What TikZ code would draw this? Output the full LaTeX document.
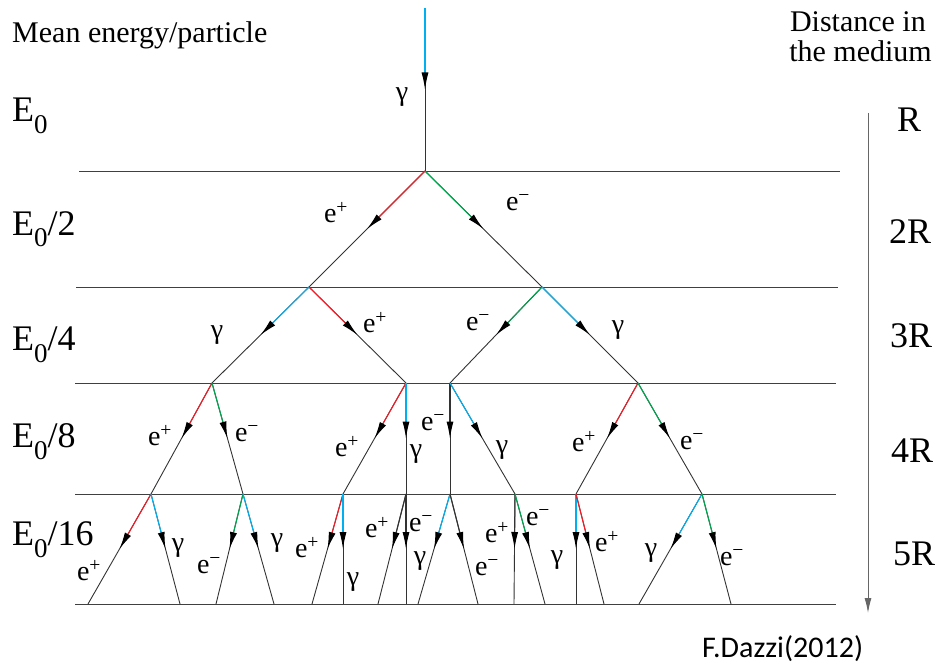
\documentclass[tikz,border=0pt]{standalone}
\usepackage{fontspec}
\setmainfont{Liberation Serif}
\newfontfamily\signfont{Carlito}
\usetikzlibrary{arrows.meta, calc}

\definecolor{posred}{RGB}{240,30,40}
\definecolor{elegreen}{RGB}{0,165,80}
\definecolor{phoblue}{RGB}{0,175,240}

\newcommand{\eplus}{e\textsuperscript{+}}
\newcommand{\eminus}{e\textsuperscript{−}}
\newcommand{\gam}{γ}
\newcommand{\Elev}[1]{E\raisebox{-12pt}{\fontsize{27}{27}\selectfont 0}#1}

% one track of the shower: colour, from, to, label, label position
\newcommand{\shwtrack}[5]{%
  \draw[trk] (#2) -- (#3);
  \draw[trk, line width=1.1pt, #1, -{Latex[black, length=17pt, width=7pt]}] (#2) -- ($(#2)!0.5!(#3)$);
  \node[lbl] (l-#2-#3) at (#5) {#4};
}

\begin{document}
\begin{tikzpicture}[x=1pt, y=-1pt,
    trk/.style={line width=0.9pt, black!80},
    lbl/.style={font=\fontsize{28}{28}\selectfont, inner sep=0pt},
    lvl/.style={font=\fontsize{36}{36}\selectfont, inner sep=0pt, anchor=base west},
    dst/.style={font=\fontsize{36}{36}\selectfont, inner sep=0pt, anchor=base},
    head/.style={font=\fontsize{30}{30}\selectfont, inner sep=0pt},
    layer/.style={line width=0.9pt, black!75},
    axis/.style={line width=1pt, black!60, -{Latex[length=15pt, width=7pt]}}
]
    \useasboundingbox (0,0) rectangle (935,666);

    % layers of the medium
    \draw[layer] (79,171) -- (840,171);
    \draw[layer] (76,287) -- (838,287);
    \foreach \y in {383,494,604}
        \draw[layer] (75,\y) -- (836,\y);

    % vertices
    \coordinate (s) at (425,8);
    \coordinate (a) at (425,171);
    \coordinate (b) at (309,287);
    \coordinate (c) at (542,287);
    \coordinate (d) at (212,383);
    \coordinate (e) at (406,383);
    \coordinate (f) at (450,383);
    \coordinate (g) at (638,383);
    \coordinate (h) at (151,494);
    \coordinate (i) at (243,494);
    \coordinate (j) at (343,494);
    \coordinate (k) at (406,494);
    \coordinate (l) at (450,494);
    \coordinate (m) at (515,494);
    \coordinate (n) at (576,494);
    \coordinate (o) at (702,494);
    % track ends at the bottom
    \coordinate (h1) at (88,604);  \coordinate (h2) at (180,604);
    \coordinate (i1) at (216,604); \coordinate (i2) at (274,604);
    \coordinate (j1) at (312,604); \coordinate (j2) at (343,604);
    \coordinate (k1) at (378,604); \coordinate (k2) at (406,604);
    \coordinate (l1) at (418,604); \coordinate (l2) at (478,604);
    \coordinate (m1) at (514,604); \coordinate (m2) at (545,604);
    \coordinate (n1) at (576,604); \coordinate (n2) at (604,604);
    \coordinate (o1) at (639,604); \coordinate (o2) at (731,604);

    % shower
    \shwtrack{phoblue}{s}{a}{\gam}{402,97}
    \shwtrack{posred}{a}{b}{\eplus}{336,213}
    \shwtrack{elegreen}{a}{c}{\eminus}{518,203}
    \shwtrack{phoblue}{b}{d}{\gam}{217,335}
    \shwtrack{posred}{b}{e}{\eplus}{375,323}
    \shwtrack{elegreen}{c}{f}{\eminus}{478,323}
    \shwtrack{phoblue}{c}{g}{\gam}{618,330}
    \shwtrack{posred}{d}{h}{\eplus}{160,436}
    \shwtrack{elegreen}{d}{i}{\eminus}{247,434}
    \shwtrack{posred}{e}{j}{\eplus}{347,447}
    \shwtrack{phoblue}{e}{k}{\gam}{416,454}
    \shwtrack{black!80}{f}{l}{\eminus}{433,423}
    \shwtrack{phoblue}{f}{m}{\gam}{502,450}
    \shwtrack{posred}{g}{n}{\eplus}{584,442}
    \shwtrack{elegreen}{g}{o}{\eminus}{692,442}
    \shwtrack{posred}{h}{h1}{\eplus}{89,571}
    \shwtrack{phoblue}{h}{h2}{\gam}{178,548}
    \shwtrack{elegreen}{i}{i1}{\eminus}{209,566}
    \shwtrack{phoblue}{i}{i2}{\gam}{277,543}
    \shwtrack{posred}{j}{j1}{\eplus}{307,548}
    \shwtrack{phoblue}{j}{j2}{\gam}{353,582}
    \shwtrack{black!80}{k}{k1}{\eplus}{377,528}
    \shwtrack{black!80}{k}{k2}{\eminus}{421,524}
    \shwtrack{phoblue}{l}{l1}{\gam}{420,561}
    \shwtrack{black!80}{l}{l2}{\eminus}{487,568}
    \shwtrack{black!80}{m}{m1}{\eplus}{497,533}
    \shwtrack{elegreen}{m}{m2}{\eminus}{538,518}
    \shwtrack{phoblue}{n}{n1}{\gam}{557,560}
    \shwtrack{posred}{n}{n2}{\eplus}{607,542}
    \shwtrack{phoblue}{o}{o1}{\gam}{651,553}
    \shwtrack{elegreen}{o}{o2}{\eminus}{732,558}

    % energy per particle
    \node[head, anchor=base west] (mean) at (12,43) {Mean energy/particle};
    \node[lvl] (E0) at (12,122) {\Elev{}};
    \node[lvl] (E2) at (12,235) {\Elev{/2}};
    \node[lvl] (E4) at (12,350) {\Elev{/4}};
    \node[lvl] (E8) at (12,447) {\Elev{/8}};
    \node[lvl] (E16) at (12,545) {\Elev{/16}};

    % distance in the medium
    \node[head, anchor=base east] (dist1) at (926,32) {Distance in};
    \node[head, anchor=base east] (dist2) at (932,62) {the medium};
    \coordinate (dtop) at (868,113);
    \coordinate (dbot) at (868,613);
    \draw[axis] (dtop) -- (dbot);
    \node[dst] (R1) at (909,132) {R};
    \node[dst] (R2) at (910,243) {2R};
    \node[dst] (R3) at (911,347) {3R};
    \node[dst] (R4) at (912,462) {4R};
    \node[dst] (R5) at (914,565) {5R};

    \node[anchor=base west, inner sep=0pt, font=\signfont\fontsize{30}{30}\selectfont] (sign) at (702,657) {F.Dazzi(2012)};
\end{tikzpicture}
\end{document}
